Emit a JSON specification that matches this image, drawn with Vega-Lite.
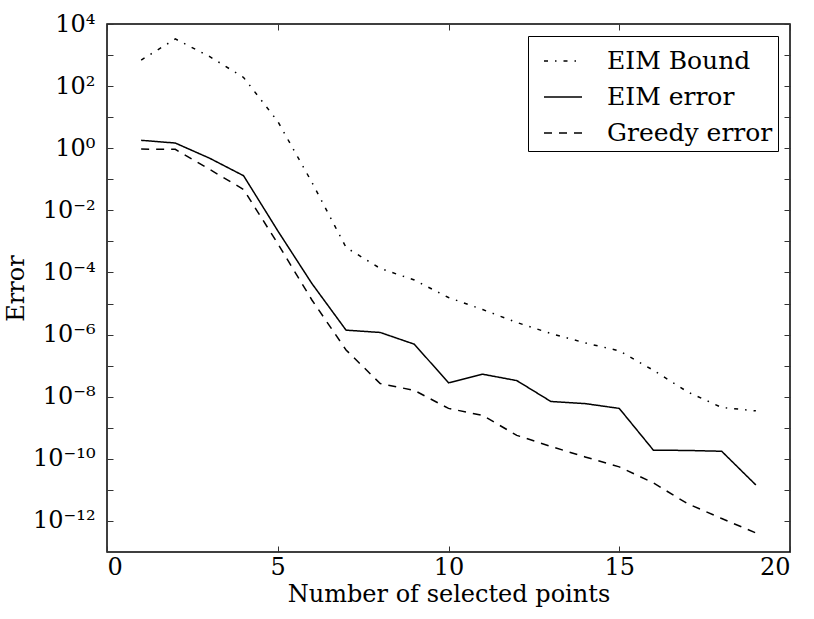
{
  "$schema": "https://vega.github.io/schema/vega-lite/v6.json",
  "width": 683,
  "height": 528,
  "autosize": "none",
  "padding": {"left": 107, "top": 24, "right": 24, "bottom": 67},
  "background": "white",
  "data": {
    "values": [
      {"n": 1, "series": "EIM Bound", "error": 690},
      {"n": 2, "series": "EIM Bound", "error": 3300},
      {"n": 3, "series": "EIM Bound", "error": 900},
      {"n": 4, "series": "EIM Bound", "error": 190},
      {"n": 5, "series": "EIM Bound", "error": 7.3},
      {"n": 6, "series": "EIM Bound", "error": 0.08},
      {"n": 7, "series": "EIM Bound", "error": 0.00064},
      {"n": 8, "series": "EIM Bound", "error": 0.000135},
      {"n": 9, "series": "EIM Bound", "error": 0.000057},
      {"n": 10, "series": "EIM Bound", "error": 0.0000156},
      {"n": 11, "series": "EIM Bound", "error": 0.0000064},
      {"n": 12, "series": "EIM Bound", "error": 0.00000245},
      {"n": 13, "series": "EIM Bound", "error": 0.00000108},
      {"n": 14, "series": "EIM Bound", "error": 5.4e-7},
      {"n": 15, "series": "EIM Bound", "error": 3.0e-7},
      {"n": 16, "series": "EIM Bound", "error": 7.1e-8},
      {"n": 17, "series": "EIM Bound", "error": 1.43e-8},
      {"n": 18, "series": "EIM Bound", "error": 4.5e-9},
      {"n": 19, "series": "EIM Bound", "error": 3.5e-9},
      {"n": 1, "series": "EIM error", "error": 1.8},
      {"n": 2, "series": "EIM error", "error": 1.47},
      {"n": 3, "series": "EIM error", "error": 0.48},
      {"n": 4, "series": "EIM error", "error": 0.13},
      {"n": 5, "series": "EIM error", "error": 0.0022},
      {"n": 6, "series": "EIM error", "error": 0.000044},
      {"n": 7, "series": "EIM error", "error": 1.39e-6},
      {"n": 8, "series": "EIM error", "error": 1.17e-6},
      {"n": 9, "series": "EIM error", "error": 4.9e-7},
      {"n": 10, "series": "EIM error", "error": 2.8e-8},
      {"n": 11, "series": "EIM error", "error": 5.3e-8},
      {"n": 12, "series": "EIM error", "error": 3.3e-8},
      {"n": 13, "series": "EIM error", "error": 7.0e-9},
      {"n": 14, "series": "EIM error", "error": 6.0e-9},
      {"n": 15, "series": "EIM error", "error": 4.2e-9},
      {"n": 16, "series": "EIM error", "error": 1.9e-10},
      {"n": 17, "series": "EIM error", "error": 1.86e-10},
      {"n": 18, "series": "EIM error", "error": 1.75e-10},
      {"n": 19, "series": "EIM error", "error": 1.44e-11},
      {"n": 1, "series": "Greedy error", "error": 0.94},
      {"n": 2, "series": "Greedy error", "error": 0.92},
      {"n": 3, "series": "Greedy error", "error": 0.21},
      {"n": 4, "series": "Greedy error", "error": 0.047},
      {"n": 5, "series": "Greedy error", "error": 0.00085},
      {"n": 6, "series": "Greedy error", "error": 0.000013},
      {"n": 7, "series": "Greedy error", "error": 3.2e-7},
      {"n": 8, "series": "Greedy error", "error": 2.65e-8},
      {"n": 9, "series": "Greedy error", "error": 1.6e-8},
      {"n": 10, "series": "Greedy error", "error": 4.2e-9},
      {"n": 11, "series": "Greedy error", "error": 2.5e-9},
      {"n": 12, "series": "Greedy error", "error": 5.7e-10},
      {"n": 13, "series": "Greedy error", "error": 2.5e-10},
      {"n": 14, "series": "Greedy error", "error": 1.15e-10},
      {"n": 15, "series": "Greedy error", "error": 5.5e-11},
      {"n": 16, "series": "Greedy error", "error": 1.67e-11},
      {"n": 17, "series": "Greedy error", "error": 3.6e-12},
      {"n": 18, "series": "Greedy error", "error": 1.2e-12},
      {"n": 19, "series": "Greedy error", "error": 4.1e-13}
    ]
  },
  "layer": [
    {
      "mark": {"type": "line", "color": "black", "strokeWidth": 1.5, "clip": true},
      "encoding": {
        "x": {
          "field": "n", "type": "quantitative",
          "scale": {"domain": [0, 20], "nice": false, "zero": false},
          "axis": {"orient": "bottom", "values": [0, 5, 10, 15, 20], "format": "d", "title": "Number of selected points", "labelPadding": 9, "titlePadding": 3}
        },
        "y": {
          "field": "error", "type": "quantitative",
          "scale": {"type": "log", "domain": [1e-13, 10000], "nice": false},
          "axis": {
            "orient": "left",
            "title": "Error",
            "values": [1e-12, 1e-11, 1e-10, 1e-9, 1e-8, 1e-7, 1e-6, 1e-5, 1e-4, 1e-3, 1e-2, 1e-1, 1, 10, 100, 1000, 10000],
            "labelExpr": "round(log(datum.value)/LN10) == 4 ? '10⁴' : round(log(datum.value)/LN10) == 2 ? '10²' : round(log(datum.value)/LN10) == 0 ? '10⁰' : round(log(datum.value)/LN10) == -2 ? '10⁻²' : round(log(datum.value)/LN10) == -4 ? '10⁻⁴' : round(log(datum.value)/LN10) == -6 ? '10⁻⁶' : round(log(datum.value)/LN10) == -8 ? '10⁻⁸' : round(log(datum.value)/LN10) == -10 ? '10⁻¹⁰' : round(log(datum.value)/LN10) == -12 ? '10⁻¹²' : ''",
            "labelPadding": 18,
            "titlePadding": 4
          }
        },
        "strokeDash": {
          "field": "series", "type": "nominal",
          "scale": {"domain": ["EIM Bound", "EIM error", "Greedy error"], "range": [[4, 7, 1.5, 7], [1, 0], [8, 7]]},
          "legend": {"title": null}
        }
      }
    },
    {
      "mark": {"type": "line", "opacity": 0},
      "encoding": {
        "x": {"field": "n", "type": "quantitative", "axis": {"orient": "top", "values": [0, 5, 10, 15, 20], "labels": false, "title": null}},
        "y": {"field": "error", "type": "quantitative", "axis": {"orient": "right", "values": [1e-12, 1e-11, 1e-10, 1e-9, 1e-8, 1e-7, 1e-6, 1e-5, 1e-4, 1e-3, 1e-2, 1e-1, 1, 10, 100, 1000, 10000], "labels": false, "title": null}},
        "detail": {"field": "series", "type": "nominal"}
      }
    }
  ],
  "config": {
    "font": "DejaVu Serif",
    "view": {"stroke": "black", "strokeWidth": 1.5},
    "axis": {
      "domain": false, "grid": false,
      "tickSize": -6, "tickWidth": 1, "tickColor": "#333333",
      "labelFont": "DejaVu Serif", "labelFontSize": 24, "labelColor": "black",
      "titleFont": "DejaVu Serif", "titleFontSize": 24, "titleFontWeight": "normal", "titleColor": "black"
    },
    "legend": {
      "orient": "top-right", "offset": 12,
      "strokeColor": "black", "fillColor": "white", "padding": 5, "cornerRadius": 0,
      "symbolType": "stroke", "symbolSize": 1444, "symbolStrokeWidth": 1.5, "symbolStrokeColor": "black",
      "symbolOffset": 10, "labelOffset": 24, "rowPadding": 3, "labelLimit": 400,
      "labelFont": "DejaVu Serif", "labelFontSize": 25, "labelColor": "black"
    }
  }
}
